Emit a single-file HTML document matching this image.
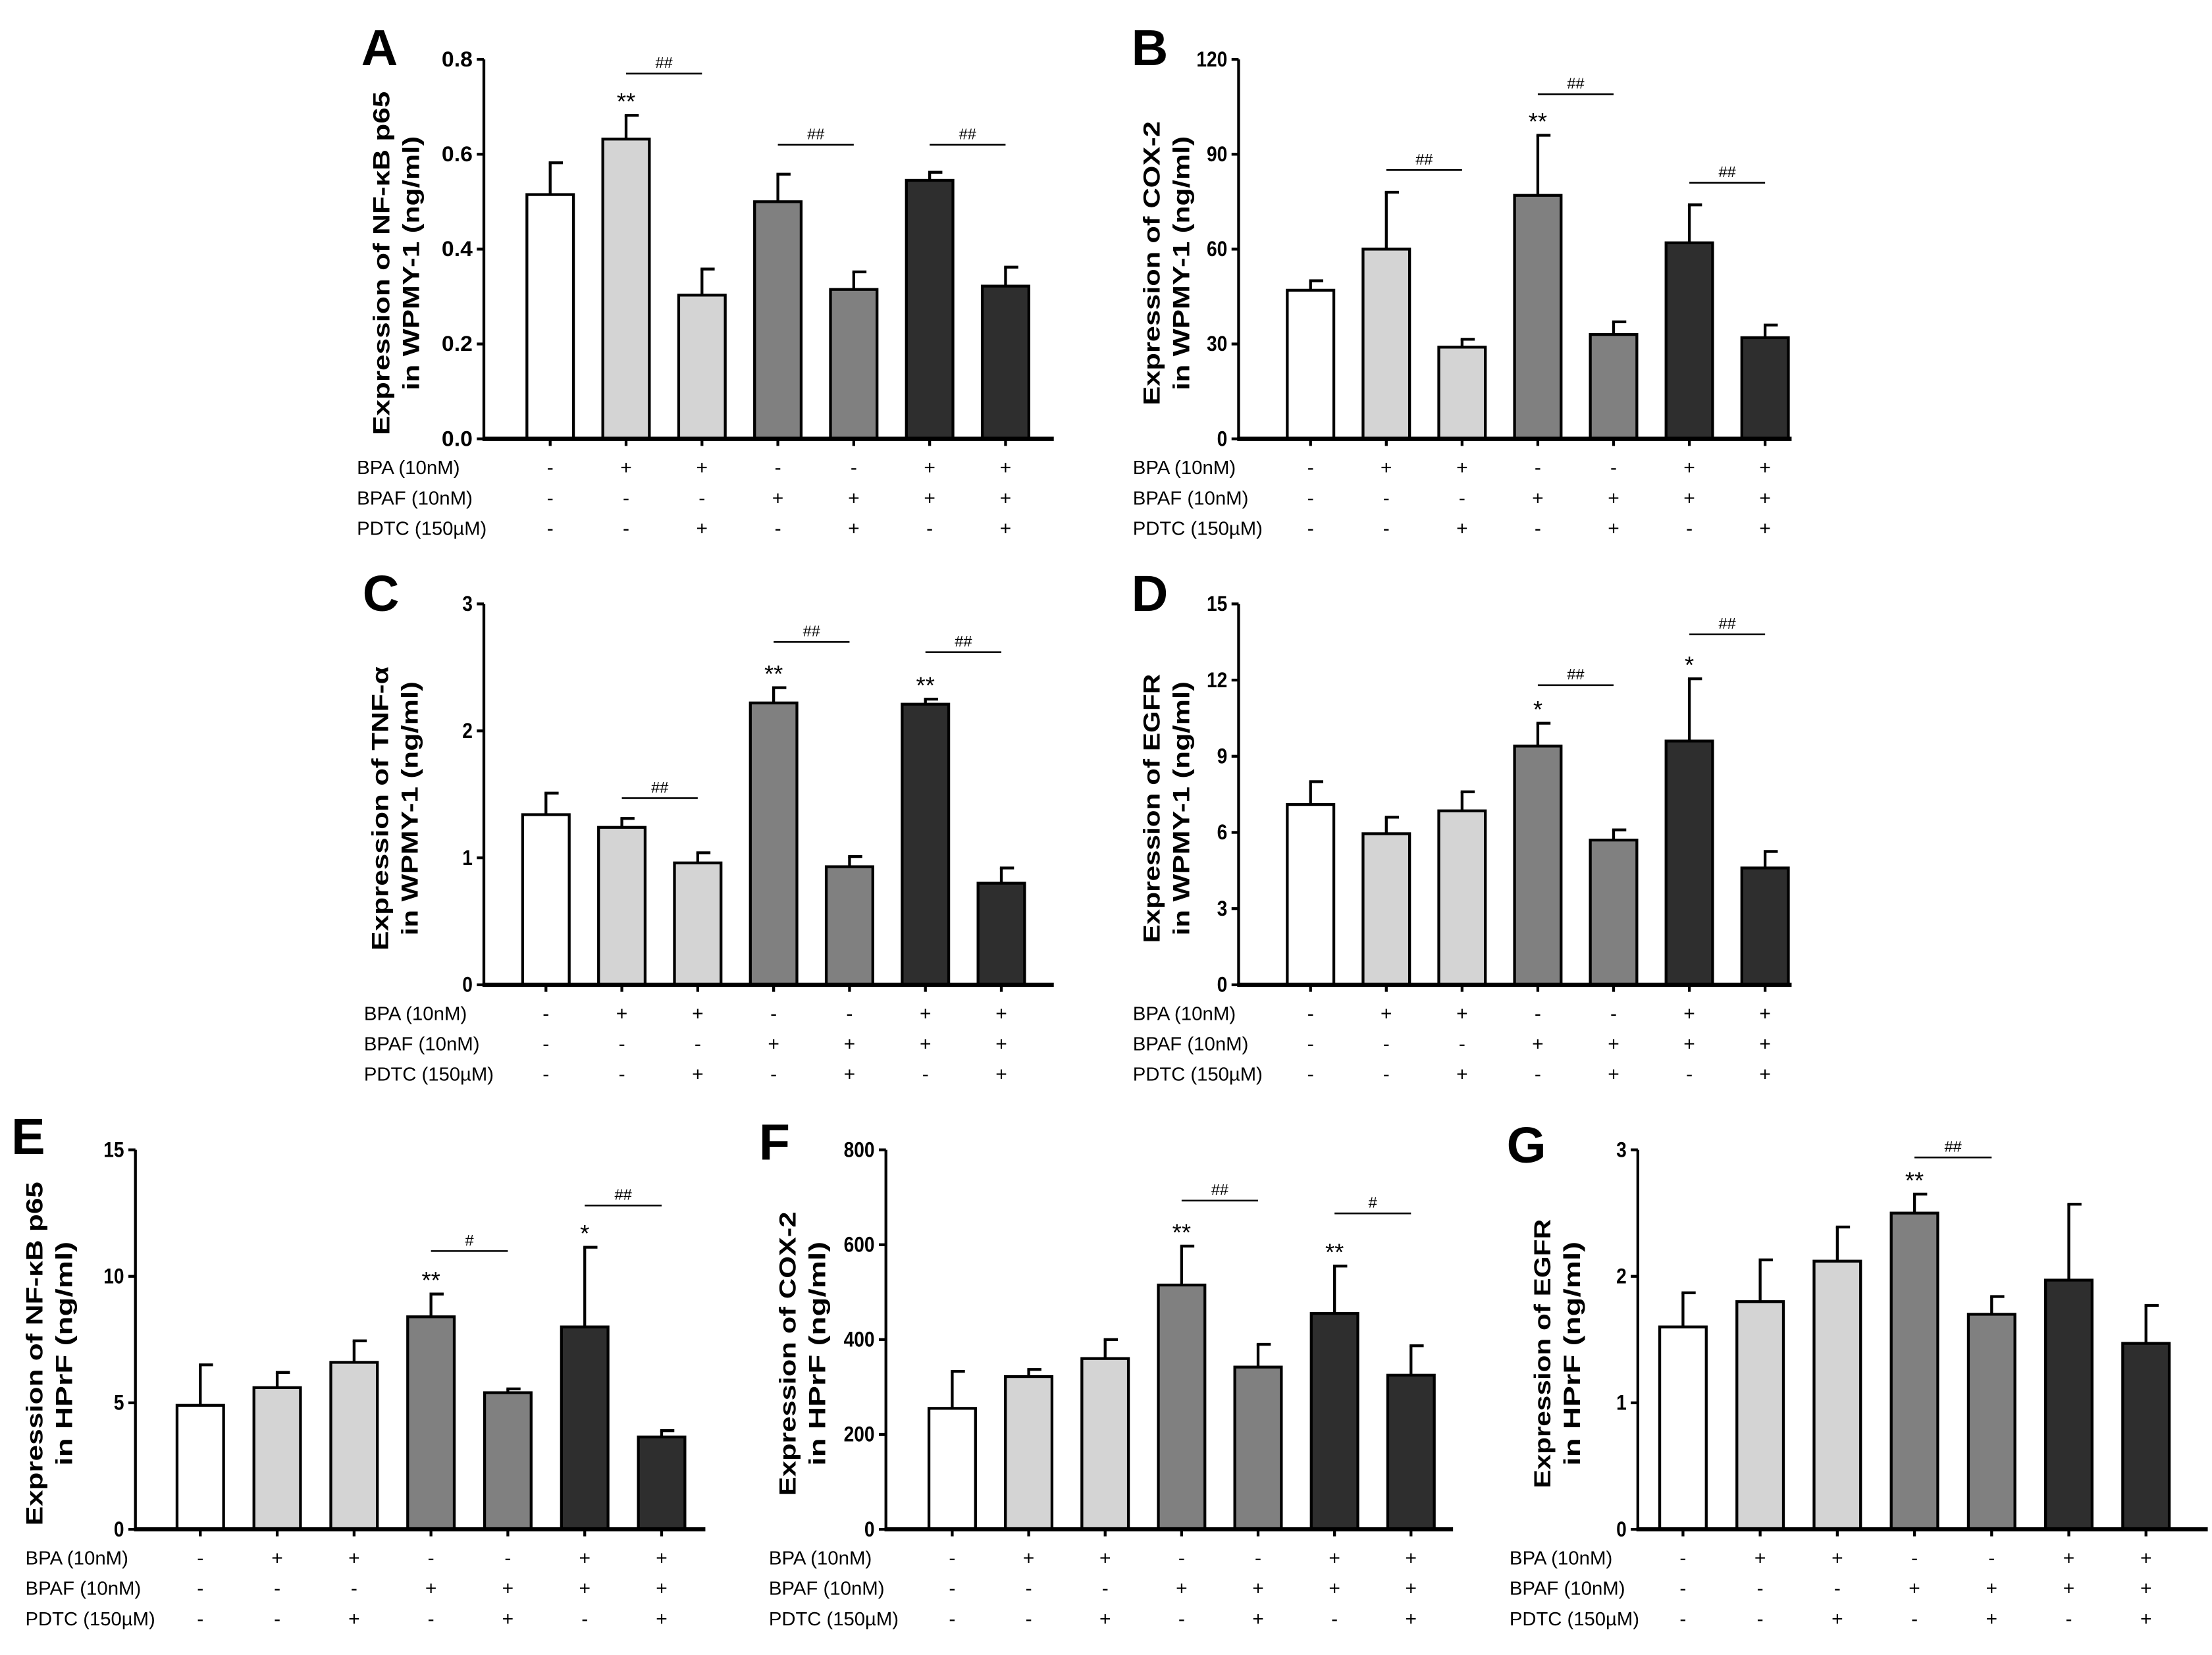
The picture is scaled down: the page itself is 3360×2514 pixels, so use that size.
<!DOCTYPE html>
<html><head><meta charset="utf-8"><style>
html,body{margin:0;padding:0;background:#fff;}
svg{display:block;}
text{font-family:"Liberation Sans",sans-serif;}
</style></head><body>
<svg id="fig" width="3360" height="2514" viewBox="0 0 1568 1173" xmlns="http://www.w3.org/2000/svg"></svg>
<script>
// ---- data ----
const groupColors = ["#ffffff","#d4d4d4","#d4d4d4","#808080","#808080","#2e2e2e","#2e2e2e"];
const bpaRow  = ["-","+","+","-","-","+","+"];
const bpafRow = ["-","-","-","+","+","+","+"];
const pdtcRow = ["-","-","+","-","+","-","+"];
const rowLabels = ["BPA (10nM)","BPAF (10nM)","PDTC (150\u00B5M)"];

const aMeans = [0.515,0.632,0.303,0.50,0.315,0.545,0.322];
const aErr   = [0.067,0.05,0.055,0.058,0.037,0.017,0.04];
const aTicks = ["0.0","0.2","0.4","0.6","0.8"];
const bMeans = [47,60,29,77,33,62,32];
const bErr   = [3,18,2.5,19,4,12,4];
const bTicks = ["0","30","60","90","120"];
const cMeans = [1.34,1.24,0.96,2.22,0.93,2.21,0.80];
const cErr   = [0.17,0.07,0.08,0.12,0.08,0.04,0.12];
const cTicks = ["0","1","2","3"];
const dMeans = [7.1,5.95,6.85,9.4,5.7,9.6,4.6];
const dErr   = [0.9,0.65,0.75,0.9,0.4,2.45,0.65];
const dTicks = ["0","3","6","9","12","15"];
const eMeans = [4.9,5.6,6.6,8.4,5.4,8.0,3.65];
const eErr   = [1.6,0.6,0.85,0.9,0.15,3.15,0.25];
const eTicks = ["0","5","10","15"];
const fMeans = [255,322,360,515,342,455,325];
const fErr   = [78,15,40,82,48,100,62];
const fTicks = ["0","200","400","600","800"];
const gMeans = [1.6,1.8,2.12,2.5,1.7,1.97,1.47];
const gErr   = [0.27,0.33,0.27,0.15,0.14,0.6,0.3];
const gTicks = ["0","1","2","3"];

const aStars = [[1,"**"]]; const aBr = [[1,2,0.77,"##"],[3,4,0.62,"##"],[5,6,0.62,"##"]];
const bStars = [[3,"**"]]; const bBr = [[1,2,85,"##"],[3,4,109,"##"],[5,6,81,"##"]];
const cStars = [[3,"**"],[5,"**"]]; const cBr = [[1,2,1.47,"##"],[3,4,2.7,"##"],[5,6,2.62,"##"]];
const dStars = [[3,"*"],[5,"*"]]; const dBr = [[3,4,11.8,"##"],[5,6,13.8,"##"]];
const eStars = [[3,"**"],[5,"*"]]; const eBr = [[3,4,11.0,"#"],[5,6,12.8,"##"]];
const fStars = [[3,"**"],[5,"**"]]; const fBr = [[3,4,693,"##"],[5,6,666,"#"]];
const gStars = [[3,"**"]]; const gBr = [[3,4,2.94,"##"]];

const NS="http://www.w3.org/2000/svg";
const svg=document.getElementById("fig");
function mk(tag,attrs,parent){const e=document.createElementNS(NS,tag);for(const k in attrs)e.setAttribute(k,attrs[k]);(parent||svg).appendChild(e);return e;}

function panel(cfg){
  const g=mk("g",{});
  
  
  const ymax=parseFloat(cfg.ticks[cfg.ticks.length-1]);
  const Y=v=>cfg.y0-(v/ymax)*(cfg.y0-cfg.ytop);
  const X=i=>cfg.x1+i*cfg.step;
  const bw=33;
  const L=mk("text",{x:cfg.lx,y:cfg.ly,"font-size":36,"font-weight":"bold"},g);L.textContent=cfg.letter;
  
  
  const cy=(cfg.y0+cfg.ytop)/2+10;
  cfg.title.forEach((t,k)=>{
    const tx=cfg.ax-70+k*21-(cfg.tOff||0);
    const T=mk("text",{x:tx,y:cy,"font-size":16.5,"font-weight":"bold","text-anchor":"middle",transform:`rotate(-90 ${tx} ${cy})`,textLength:t.length*10.6,lengthAdjust:"spacingAndGlyphs"},g);
    T.textContent=t;
    
    
  });
  const ya=mk("line",{x1:cfg.ax,y1:cfg.ytop,x2:cfg.ax,y2:cfg.y0,stroke:"#000","stroke-width":2},g);
  
  
  cfg.ticks.forEach(t=>{
    const v=parseFloat(t),y=Y(v);
    mk("line",{x1:cfg.ax-5,y1:y,x2:cfg.ax,y2:y,stroke:"#000","stroke-width":2},g);
    const tl=mk("text",{x:cfg.ax-8,y:y+5,"font-size":15,"font-weight":"bold","text-anchor":"end",textLength:t.length*7.3,lengthAdjust:"spacingAndGlyphs"},g);
    tl.textContent=t;
    
    
  });
  cfg.means.forEach((m,i)=>{
    const x=X(i), yt=Y(m), ye=Y(m+cfg.err[i]);
    const eb=mk("line",{x1:x,y1:yt,x2:x,y2:ye,stroke:"#000","stroke-width":2},g);
    
    
    mk("line",{x1:x-1,y1:ye,x2:x+9,y2:ye,stroke:"#000","stroke-width":2},g);
    const r=mk("rect",{x:x-bw/2,y:yt,width:bw,height:cfg.y0-yt,fill:groupColors[i],stroke:"#000","stroke-width":2},g);
    
    
    mk("line",{x1:x,y1:cfg.y0,x2:x,y2:cfg.y0+5,stroke:"#000","stroke-width":2},g);
  });
  const xa=mk("line",{x1:cfg.ax-1,y1:cfg.y0,x2:cfg.xend,y2:cfg.y0,stroke:"#000","stroke-width":3},g);
  
  
  [bpaRow,bpafRow,pdtcRow].forEach((row,r)=>{
    const ry=cfg.y0+25+r*21.5;
    const rl=mk("text",{x:cfg.rx,y:ry,"font-size":13.5,textLength:[73,82,92][r],lengthAdjust:"spacingAndGlyphs"},g);
    rl.textContent=rowLabels[r];
    
    
    row.forEach((s,i)=>{
      const st=mk("text",{x:X(i),y:ry,"font-size":14,"text-anchor":"middle"},g);
      st.textContent=s;
      
      
    });
  });
  cfg.stars.forEach(([i,t])=>{
    const top=Y(cfg.means[i]+cfg.err[i]);
    const s=mk("text",{x:X(i),y:top-4,"font-size":17,"text-anchor":"middle"},g);
    s.textContent=t;
    
    
  });
  cfg.br.forEach(([a,b,v,t])=>{
    const y=Y(v);
    const bl=mk("line",{x1:X(a),y1:y,x2:X(b),y2:y,stroke:"#000","stroke-width":1.2},g);
    
    
    const bt=mk("text",{x:(X(a)+X(b))/2,y:y-4,"font-size":11,"text-anchor":"middle"},g);
    bt.textContent=t;
    
    
  });
}

panel({letter:"A",lx:256,ly:46,ax:343,y0:311,ytop:42,xend:747,x1:390,step:53.8,rx:253,means:aMeans,err:aErr,ticks:aTicks,stars:aStars,br:aBr,title:["Expression of NF-\u03BAB p65","in WPMY-1 (ng/ml)"],tOff:-3});
panel({letter:"B",lx:802,ly:46,ax:878,y0:311,ytop:42,xend:1270,x1:929,step:53.7,rx:803,means:bMeans,err:bErr,ticks:bTicks,stars:bStars,br:bBr,title:["Expression of COX-2","in WPMY-1 (ng/ml)"],tOff:-14});
panel({letter:"C",lx:257,ly:433,ax:343,y0:698,ytop:428,xend:747,x1:387,step:53.8,rx:258,means:cMeans,err:cErr,ticks:cTicks,stars:cStars,br:cBr,title:["Expression of TNF-\u03B1","in WPMY-1 (ng/ml)"],tOff:-2});
panel({letter:"D",lx:802,ly:433,ax:878,y0:698,ytop:428,xend:1270,x1:929,step:53.7,rx:803,means:dMeans,err:dErr,ticks:dTicks,stars:dStars,br:dBr,title:["Expression of EGFR","in WPMY-1 (ng/ml)"],tOff:-14});
panel({letter:"E",lx:8,ly:818,ax:96,y0:1084,ytop:815,xend:500,x1:142,step:54.5,rx:18,means:eMeans,err:eErr,ticks:eTicks,stars:eStars,br:eBr,title:["Expression of NF-\u03BAB p65","in HPrF (ng/ml)"],tOff:-4});
panel({letter:"F",lx:538,ly:822,ax:628,y0:1084,ytop:815,xend:1030,x1:675,step:54.2,rx:545,means:fMeans,err:fErr,ticks:fTicks,stars:fStars,br:fBr,title:["Expression of COX-2","in HPrF (ng/ml)"],tOff:-6});
panel({letter:"G",lx:1068,ly:824,ax:1161,y0:1084,ytop:815,xend:1565,x1:1193,step:54.7,rx:1070,means:gMeans,err:gErr,ticks:gTicks,stars:gStars,br:gBr,title:["Expression of EGFR","in HPrF (ng/ml)"],tOff:-8});
</script>
</body></html>
